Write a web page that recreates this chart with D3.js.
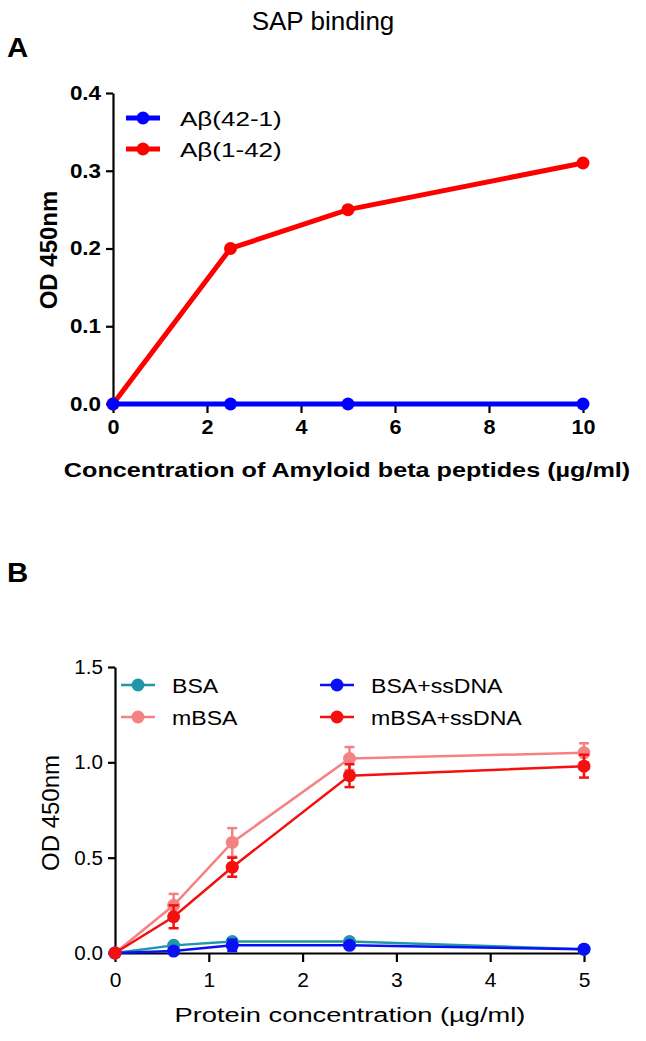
<!DOCTYPE html>
<html><head><meta charset="utf-8">
<script src="https://cdn.jsdelivr.net/npm/d3@7"></script>
<style>body{margin:0;background:#fff}svg{display:block}text{font-family:Arial,"Liberation Sans",sans-serif}</style>
</head><body><svg id="c" width="646" height="1041"></svg>
<script>
// Panel A data
const aX = [0, 2.5, 5, 10];
const aRev = [0, 0, 0, 0];            // Aβ(42-1)
const aFwd = [0, 0.20, 0.25, 0.31];   // Aβ(1-42)
const aYTicks = [0, 0.1, 0.2, 0.3, 0.4];
const aXTicks = [0, 2, 4, 6, 8, 10];
const aSeriesNames = ["A\u03b2(42-1)", "A\u03b2(1-42)"];

// Panel B data
const bX = [0, 0.625, 1.25, 2.5, 5];
const bBSA = [0, 0.04, 0.06, 0.06, 0.02];
const bBSAerr = [0, 0.01, 0.01, 0.01, 0.01];
const bmBSA = [0, 0.25, 0.58, 1.02, 1.05];
const bmBSAerr = [0, 0.06, 0.075, 0.06, 0.05];
const bBSAss = [0, 0.01, 0.04, 0.04, 0.02];
const bBSAssErr = [0, 0.01, 0.03, 0.01, 0.01];
const bmBSAss = [0, 0.19, 0.45, 0.93, 0.98];
const bmBSAssErr = [0, 0.06, 0.05, 0.06, 0.06];
const bYTicks = [0, 0.5, 1.0, 1.5];
const bXTicks = [0, 1, 2, 3, 4, 5];
const bSeriesNames = ["BSA", "mBSA", "BSA+ssDNA", "mBSA+ssDNA"];

const svg = d3.select("#c");

function txt(g, x, y, s, size, weight, sx, anchor) {
  return g.append("text").attr("transform", `translate(${x},${y}) scale(${sx},1)`)
    .attr("text-anchor", anchor || "start").attr("font-size", size)
    .attr("font-weight", weight).attr("fill", "#000").text(s);
}

txt(svg, 323, 30, "SAP binding", 26, "normal", 1.0, "middle");
txt(svg, 7, 57, "A", 28, "bold", 1.05);
txt(svg, 7, 582, "B", 28, "bold", 1.05);

function styleAxis(g, size, weight, sx, leftOffset) {
  g.selectAll("path.domain").attr("stroke", "#000").attr("stroke-width", 2.2);
  g.selectAll(".tick line").attr("stroke", "#000").attr("stroke-width", 2.2);
  const t = g.selectAll(".tick text").attr("fill", "#000").attr("font-size", size)
    .attr("font-weight", weight).attr("font-family", "Arial, Liberation Sans, sans-serif");
  if (leftOffset != null) {
    t.attr("x", null).attr("transform", `translate(${-leftOffset},0) scale(${sx},1)`);
  } else {
    t.attr("transform", `scale(${sx},1)`);
  }
}

// ---------- Panel A ----------
const axA = d3.scaleLinear().domain([0, 10]).range([113, 583]);
const ayA = d3.scaleLinear().domain([0, 0.4]).range([404, 93]);
const gA = svg.append("g");

const yAxA = gA.append("g").attr("transform", "translate(113,0)")
  .call(d3.axisLeft(ayA).tickValues(aYTicks).tickFormat(d3.format(".1f")).tickSize(7).tickSizeOuter(0));
styleAxis(yAxA, 20, "bold", 1.12, 12);
const xAxA = gA.append("g").attr("transform", "translate(0,404)")
  .call(d3.axisBottom(axA).tickValues(aXTicks).tickFormat(d3.format("d")).tickSize(9).tickSizeOuter(0).tickPadding(7));
styleAxis(xAxA, 20, "bold", 1.08);

gA.append("text").attr("transform", "translate(57,250) rotate(-90)").attr("text-anchor", "middle")
  .attr("font-size", 24).attr("font-weight", "bold").text("OD 450nm");
txt(gA, 347, 477, "Concentration of Amyloid beta peptides (\u00b5g/ml)", 21, "bold", 1.2, "middle");

const lineA = d3.line().x(d => axA(d[0])).y(d => ayA(d[1]));
function drawSeriesA(vals, color) {
  const pts = aX.map((x, i) => [x, vals[i]]);
  gA.append("path").datum(pts).attr("d", lineA).attr("fill", "none").attr("stroke", color).attr("stroke-width", 5);
  gA.selectAll(null).data(pts).enter().append("circle")
    .attr("cx", d => axA(d[0])).attr("cy", d => ayA(d[1])).attr("r", 6.5).attr("fill", color);
}
drawSeriesA(aFwd, "#ff0000");
drawSeriesA(aRev, "#0000ff");

const legA = [[aSeriesNames[0], "#0000ff", 118], [aSeriesNames[1], "#ff0000", 149]];
legA.forEach(([t, c, y]) => {
  gA.append("line").attr("x1", 126).attr("x2", 160).attr("y1", y).attr("y2", y).attr("stroke", c).attr("stroke-width", 5);
  gA.append("circle").attr("cx", 143).attr("cy", y).attr("r", 6.5).attr("fill", c);
  txt(gA, 180, y + 8, t, 21, "normal", 1.24);
});

// ---------- Panel B ----------
const axB = d3.scaleLinear().domain([0, 5]).range([115, 584]);
const ayB = d3.scaleLinear().domain([0, 1.5]).range([953, 667]);
const gB = svg.append("g");

const yAxB = gB.append("g").attr("transform", "translate(115,0)")
  .call(d3.axisLeft(ayB).tickValues(bYTicks).tickFormat(d3.format(".1f")).tickSize(7).tickSizeOuter(0));
styleAxis(yAxB, 20, "normal", 1.03, 12);
const xAxB = gB.append("g").attr("transform", "translate(0,953)")
  .call(d3.axisBottom(axB).tickValues(bXTicks).tickFormat(d3.format("d")).tickSize(9).tickSizeOuter(0).tickPadding(11));
styleAxis(xAxB, 20, "normal", 1.05);

gB.append("text").attr("transform", "translate(59,813) rotate(-90)").attr("text-anchor", "middle")
  .attr("font-size", 24).text("OD 450nm");
txt(gB, 350, 1022, "Protein concentration (\u00b5g/ml)", 21, "normal", 1.3, "middle");

const lineB = d3.line().x(d => axB(d[0])).y(d => ayB(d[1]));
function drawSeriesB(vals, errs, color) {
  const pts = bX.map((x, i) => [x, vals[i], errs[i]]);
  gB.append("path").datum(pts).attr("d", lineB).attr("fill", "none").attr("stroke", color).attr("stroke-width", 2.5);
  const eb = gB.selectAll(null).data(pts.filter(d => d[2] > 0)).enter().append("g").attr("stroke", color).attr("stroke-width", 2.5);
  eb.append("line").attr("x1", d => axB(d[0])).attr("x2", d => axB(d[0]))
    .attr("y1", d => ayB(d[1] - d[2])).attr("y2", d => ayB(d[1] + d[2]));
  eb.append("line").attr("x1", d => axB(d[0]) - 5).attr("x2", d => axB(d[0]) + 5)
    .attr("y1", d => ayB(d[1] + d[2])).attr("y2", d => ayB(d[1] + d[2]));
  eb.append("line").attr("x1", d => axB(d[0]) - 5).attr("x2", d => axB(d[0]) + 5)
    .attr("y1", d => ayB(d[1] - d[2])).attr("y2", d => ayB(d[1] - d[2]));
  gB.selectAll(null).data(pts).enter().append("circle")
    .attr("cx", d => axB(d[0])).attr("cy", d => ayB(d[1])).attr("r", 6.5).attr("fill", color);
}
const bColors = ["#1f97a8", "#f58282", "#0a10f5", "#f50f0f"];
drawSeriesB(bBSA, bBSAerr, bColors[0]);
drawSeriesB(bmBSA, bmBSAerr, bColors[1]);
drawSeriesB(bBSAss, bBSAssErr, bColors[2]);
drawSeriesB(bmBSAss, bmBSAssErr, bColors[3]);

const legB = [[0, 121, 685], [1, 121, 717], [2, 320, 685], [3, 320, 717]];
legB.forEach(([i, x, y]) => {
  const c = bColors[i];
  gB.append("line").attr("x1", x).attr("x2", x + 34).attr("y1", y).attr("y2", y).attr("stroke", c).attr("stroke-width", 2.5);
  gB.append("circle").attr("cx", x + 17).attr("cy", y).attr("r", 6.5).attr("fill", c);
  txt(gB, x + 51, y + 8, bSeriesNames[i], 21, "normal", 1.1);
});
</script></body></html>
